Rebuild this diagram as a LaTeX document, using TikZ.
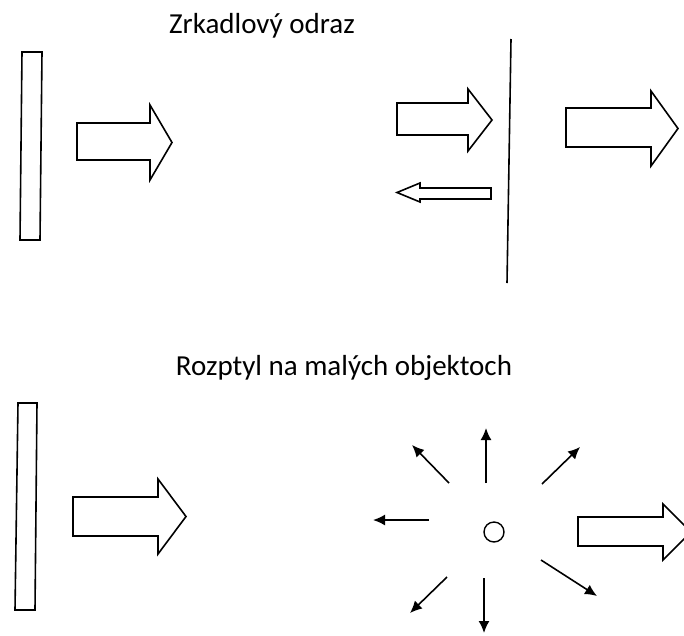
\documentclass[tikz,border=0pt]{standalone}
\usepackage{fontspec}
\setmainfont{Carlito}
\usetikzlibrary{arrows.meta}
\usetikzlibrary{positioning}
\tikzset{outline/.style = {line width=1.6pt, line join=miter},
         scatter/.style = {line width=1.6pt, -{Latex[length=12pt,width=11pt]}},
         title/.style = {anchor=base, font=\fontsize{29}{34}\selectfont}}
% block arrow: x start, x head base, x tip, y shaft top, y shaft bottom, y head top, y head bottom
\newcommand{\fatarrow}[7]{%
  \draw[outline] (#1,#4) -- (#2,#4) -- (#2,#6) -- (#3,{(#6+#7)/2}) -- (#2,#7) -- (#2,#5) -- (#1,#5) -- cycle;}

\begin{document}
\begin{tikzpicture}[x=1pt, y=-1pt]
    \useasboundingbox (0,0) rectangle (684,635);

    % mirror reflection
    \node[title] (mirrortitle) at (262,33) {Zrkadlový odraz};
    \draw[outline] (22,52) -- (42,52) -- (40,240) -- (20,240) -- cycle;
    \fatarrow{77}{150}{172}{123}{160}{105}{180}
    \fatarrow{397}{468}{492}{103}{135}{89}{151}
    \fatarrow{491}{420}{397}{188}{199}{183}{202}
    \draw[outline] (511,39) -- (507,283);
    \fatarrow{566}{651}{678}{108}{147}{91}{166}

    % scattering on small objects
    \node[title] (scattertitle) at (344,375) {Rozptyl na malých objektoch};
    \draw[outline] (18,403) -- (37,403) -- (35,610) -- (15,610) -- cycle;
    \fatarrow{73}{158}{186}{497}{536}{479}{554}
    \node[draw, circle, line width=1.4pt, minimum size=20pt, inner sep=0pt] (particle) at (494,532) {};
    \foreach \xa/\ya/\xb/\yb in {486/483/486/428, 484/578/484/633, 429/520/373/520,
                                 449/483/412/445, 542/484/580/447, 447/577/410/613,
                                 541/560/597/596}
        \draw[scatter] (\xa,\ya) -- (\xb,\yb);
    \fatarrow{578}{663}{691}{517}{546}{504}{560}
\end{tikzpicture}
\end{document}
